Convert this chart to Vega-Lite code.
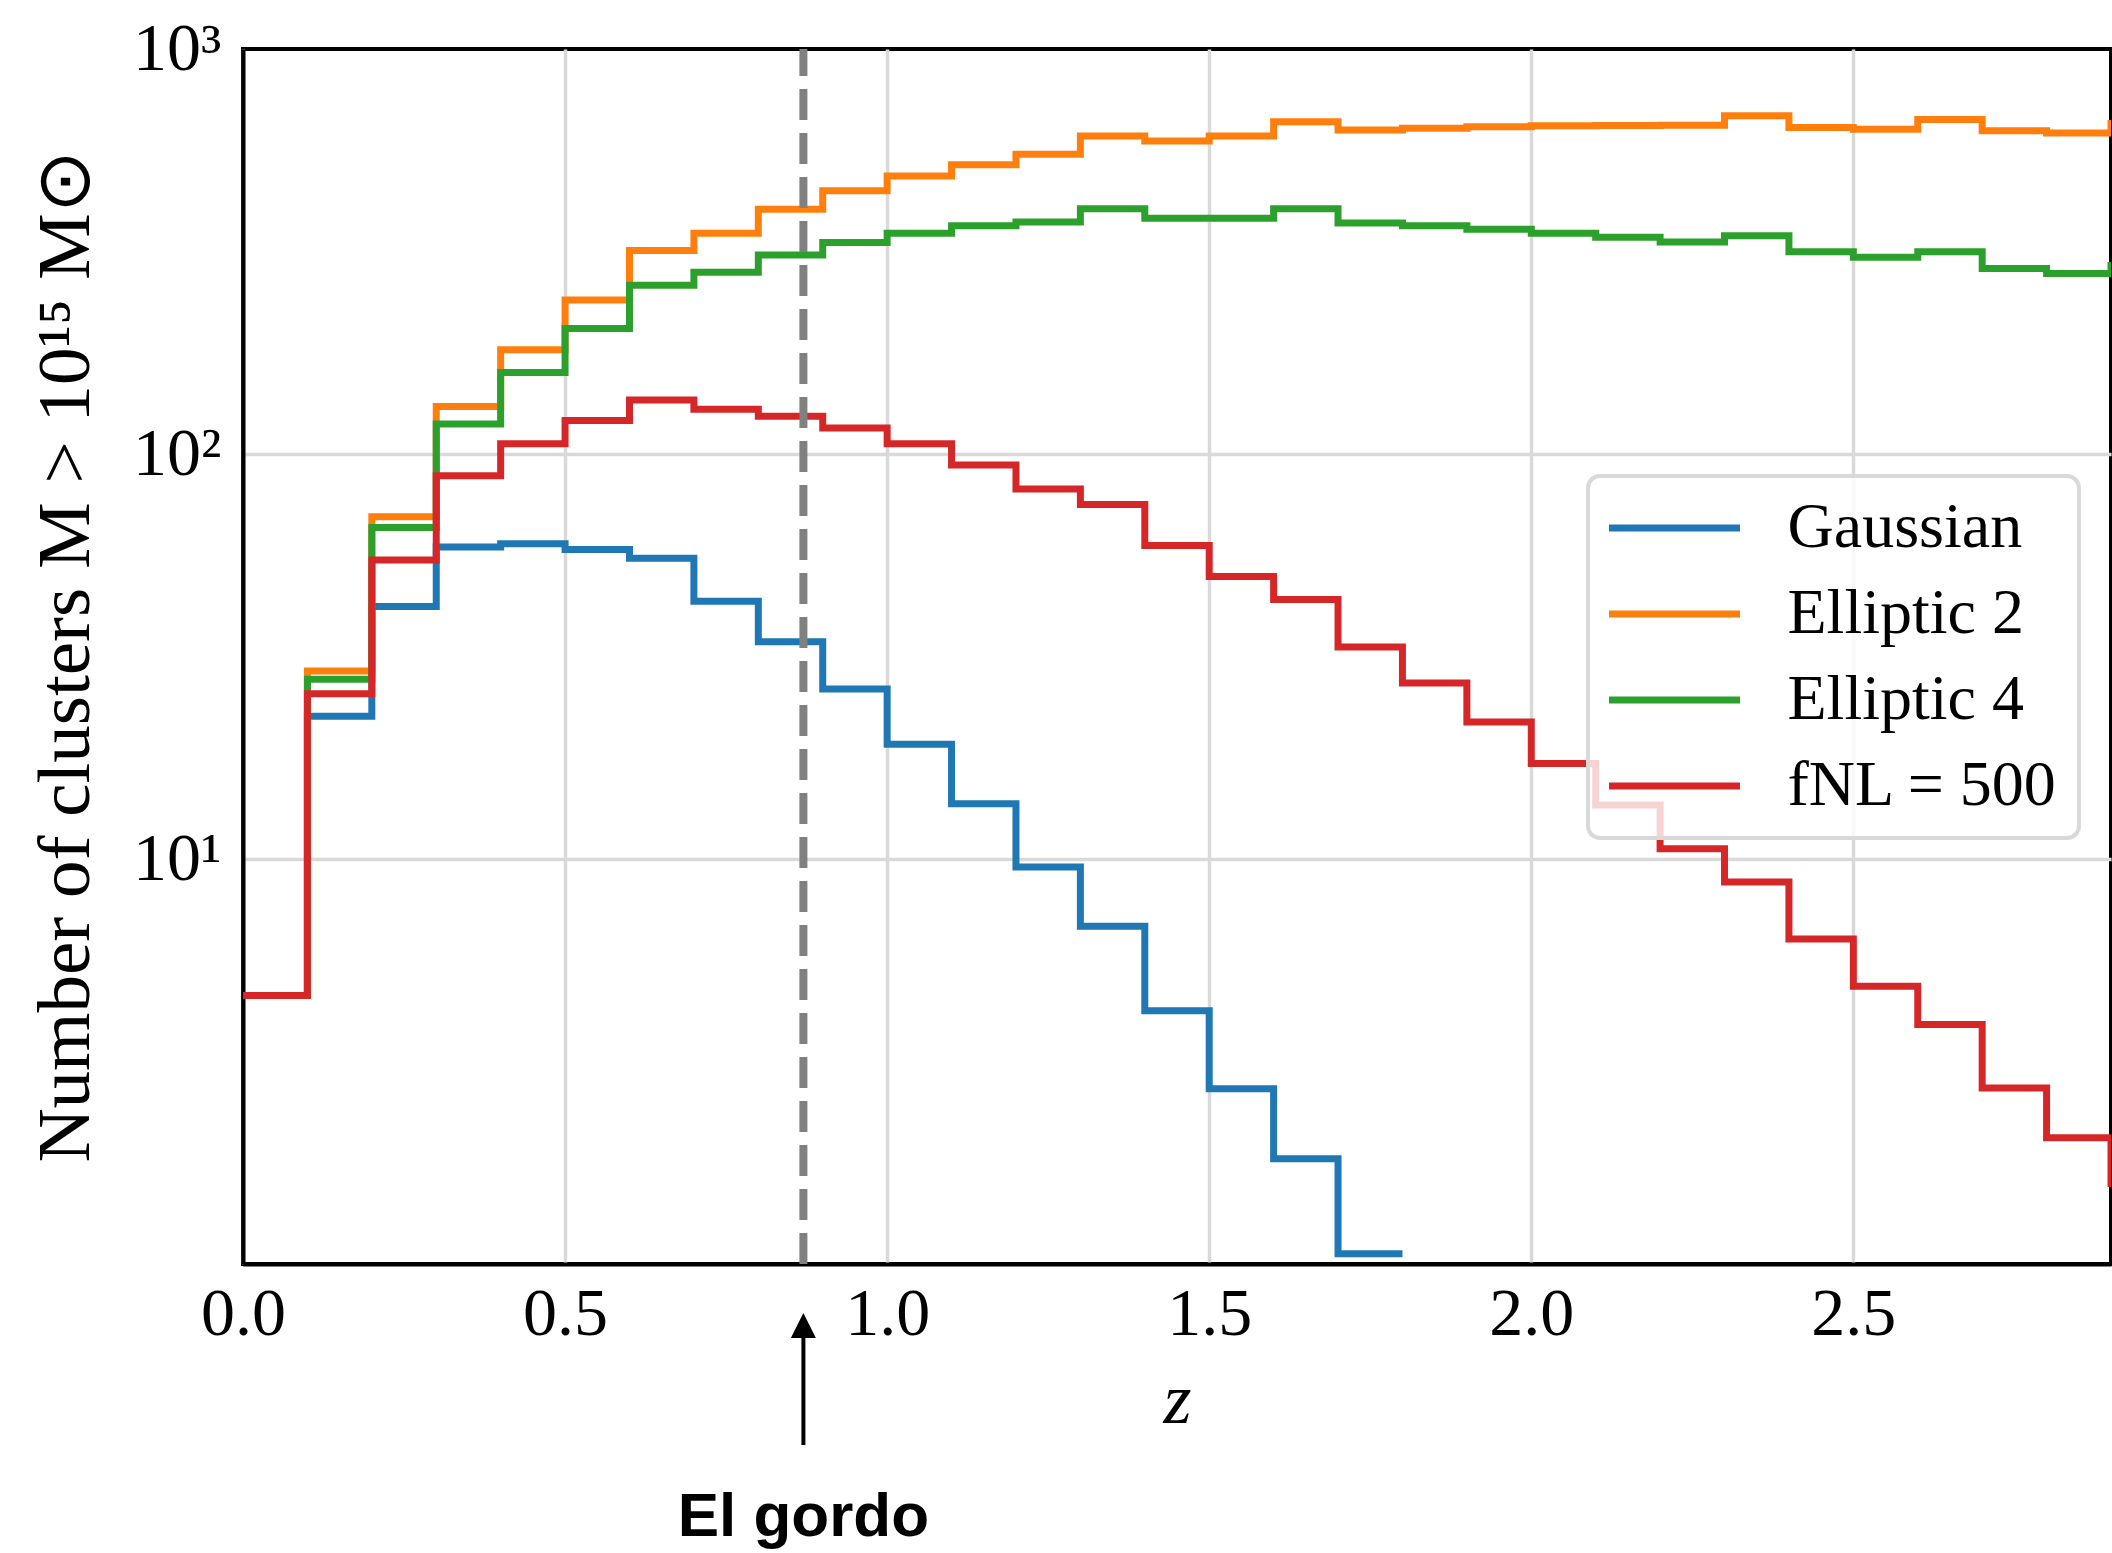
{
  "$schema": "https://vega.github.io/schema/vega-lite/v6.json",
  "width": 1868,
  "height": 1215,
  "autosize": {"type": "none"},
  "padding": {"left": 243, "top": 49, "right": 1, "bottom": 289},
  "background": "white",
  "config": {"view": {"stroke": "black", "strokeWidth": 4}, "legend": {"strokeWidth": 4}},
  "datasets": {
    "hist": [
      {"z": 0.0, "n": 4.6, "model": "Gaussian"},
      {"z": 0.1, "n": 22.5, "model": "Gaussian"},
      {"z": 0.2, "n": 42, "model": "Gaussian"},
      {"z": 0.3, "n": 58.9, "model": "Gaussian"},
      {"z": 0.4, "n": 60, "model": "Gaussian"},
      {"z": 0.5, "n": 58.1, "model": "Gaussian"},
      {"z": 0.6, "n": 55.3, "model": "Gaussian"},
      {"z": 0.7, "n": 43.3, "model": "Gaussian"},
      {"z": 0.8, "n": 34.4, "model": "Gaussian"},
      {"z": 0.9, "n": 26.3, "model": "Gaussian"},
      {"z": 1.0, "n": 19.2, "model": "Gaussian"},
      {"z": 1.1, "n": 13.7, "model": "Gaussian"},
      {"z": 1.2, "n": 9.55, "model": "Gaussian"},
      {"z": 1.3, "n": 6.82, "model": "Gaussian"},
      {"z": 1.4, "n": 4.22, "model": "Gaussian"},
      {"z": 1.5, "n": 2.71, "model": "Gaussian"},
      {"z": 1.6, "n": 1.82, "model": "Gaussian"},
      {"z": 1.7, "n": 1.06, "model": "Gaussian"},
      {"z": 1.8, "n": 1.06, "model": "Gaussian"},

      {"z": 0.0, "n": 4.6, "model": "Elliptic 2"},
      {"z": 0.1, "n": 29.1, "model": "Elliptic 2"},
      {"z": 0.2, "n": 70, "model": "Elliptic 2"},
      {"z": 0.3, "n": 131, "model": "Elliptic 2"},
      {"z": 0.4, "n": 181, "model": "Elliptic 2"},
      {"z": 0.5, "n": 240, "model": "Elliptic 2"},
      {"z": 0.6, "n": 318, "model": "Elliptic 2"},
      {"z": 0.7, "n": 351, "model": "Elliptic 2"},
      {"z": 0.8, "n": 402, "model": "Elliptic 2"},
      {"z": 0.9, "n": 447, "model": "Elliptic 2"},
      {"z": 1.0, "n": 486, "model": "Elliptic 2"},
      {"z": 1.1, "n": 518, "model": "Elliptic 2"},
      {"z": 1.2, "n": 550, "model": "Elliptic 2"},
      {"z": 1.3, "n": 610, "model": "Elliptic 2"},
      {"z": 1.4, "n": 593, "model": "Elliptic 2"},
      {"z": 1.5, "n": 610, "model": "Elliptic 2"},
      {"z": 1.6, "n": 661, "model": "Elliptic 2"},
      {"z": 1.7, "n": 631, "model": "Elliptic 2"},
      {"z": 1.8, "n": 637, "model": "Elliptic 2"},
      {"z": 1.9, "n": 643, "model": "Elliptic 2"},
      {"z": 2.0, "n": 646, "model": "Elliptic 2"},
      {"z": 2.1, "n": 647, "model": "Elliptic 2"},
      {"z": 2.2, "n": 648, "model": "Elliptic 2"},
      {"z": 2.3, "n": 684, "model": "Elliptic 2"},
      {"z": 2.4, "n": 640, "model": "Elliptic 2"},
      {"z": 2.5, "n": 634, "model": "Elliptic 2"},
      {"z": 2.6, "n": 670, "model": "Elliptic 2"},
      {"z": 2.7, "n": 628, "model": "Elliptic 2"},
      {"z": 2.8, "n": 620, "model": "Elliptic 2"},
      {"z": 2.9, "n": 655, "model": "Elliptic 2"},
      {"z": 3.0, "n": 655, "model": "Elliptic 2"},

      {"z": 0.0, "n": 4.6, "model": "Elliptic 4"},
      {"z": 0.1, "n": 27.8, "model": "Elliptic 4"},
      {"z": 0.2, "n": 65.8, "model": "Elliptic 4"},
      {"z": 0.3, "n": 118.6, "model": "Elliptic 4"},
      {"z": 0.4, "n": 159, "model": "Elliptic 4"},
      {"z": 0.5, "n": 204, "model": "Elliptic 4"},
      {"z": 0.6, "n": 261, "model": "Elliptic 4"},
      {"z": 0.7, "n": 281, "model": "Elliptic 4"},
      {"z": 0.8, "n": 310, "model": "Elliptic 4"},
      {"z": 0.9, "n": 333, "model": "Elliptic 4"},
      {"z": 1.0, "n": 351, "model": "Elliptic 4"},
      {"z": 1.1, "n": 366, "model": "Elliptic 4"},
      {"z": 1.2, "n": 374, "model": "Elliptic 4"},
      {"z": 1.3, "n": 403, "model": "Elliptic 4"},
      {"z": 1.4, "n": 382, "model": "Elliptic 4"},
      {"z": 1.5, "n": 382, "model": "Elliptic 4"},
      {"z": 1.6, "n": 403, "model": "Elliptic 4"},
      {"z": 1.7, "n": 372, "model": "Elliptic 4"},
      {"z": 1.8, "n": 366, "model": "Elliptic 4"},
      {"z": 1.9, "n": 359, "model": "Elliptic 4"},
      {"z": 2.0, "n": 351, "model": "Elliptic 4"},
      {"z": 2.1, "n": 343, "model": "Elliptic 4"},
      {"z": 2.2, "n": 334, "model": "Elliptic 4"},
      {"z": 2.3, "n": 346, "model": "Elliptic 4"},
      {"z": 2.4, "n": 316, "model": "Elliptic 4"},
      {"z": 2.5, "n": 306, "model": "Elliptic 4"},
      {"z": 2.6, "n": 316, "model": "Elliptic 4"},
      {"z": 2.7, "n": 287, "model": "Elliptic 4"},
      {"z": 2.8, "n": 279, "model": "Elliptic 4"},
      {"z": 2.9, "n": 292, "model": "Elliptic 4"},
      {"z": 3.0, "n": 292, "model": "Elliptic 4"},

      {"z": 0.0, "n": 4.6, "model": "fNL = 500"},
      {"z": 0.1, "n": 25.6, "model": "fNL = 500"},
      {"z": 0.2, "n": 54.7, "model": "fNL = 500"},
      {"z": 0.3, "n": 88.4, "model": "fNL = 500"},
      {"z": 0.4, "n": 106, "model": "fNL = 500"},
      {"z": 0.5, "n": 121, "model": "fNL = 500"},
      {"z": 0.6, "n": 136, "model": "fNL = 500"},
      {"z": 0.7, "n": 129, "model": "fNL = 500"},
      {"z": 0.8, "n": 124, "model": "fNL = 500"},
      {"z": 0.9, "n": 116, "model": "fNL = 500"},
      {"z": 1.0, "n": 106, "model": "fNL = 500"},
      {"z": 1.1, "n": 94, "model": "fNL = 500"},
      {"z": 1.2, "n": 82, "model": "fNL = 500"},
      {"z": 1.3, "n": 75, "model": "fNL = 500"},
      {"z": 1.4, "n": 59.4, "model": "fNL = 500"},
      {"z": 1.5, "n": 49.8, "model": "fNL = 500"},
      {"z": 1.6, "n": 43.7, "model": "fNL = 500"},
      {"z": 1.7, "n": 33.4, "model": "fNL = 500"},
      {"z": 1.8, "n": 27.2, "model": "fNL = 500"},
      {"z": 1.9, "n": 21.8, "model": "fNL = 500"},
      {"z": 2.0, "n": 17.2, "model": "fNL = 500"},
      {"z": 2.1, "n": 13.6, "model": "fNL = 500"},
      {"z": 2.2, "n": 10.6, "model": "fNL = 500"},
      {"z": 2.3, "n": 8.78, "model": "fNL = 500"},
      {"z": 2.4, "n": 6.35, "model": "fNL = 500"},
      {"z": 2.5, "n": 4.85, "model": "fNL = 500"},
      {"z": 2.6, "n": 3.9, "model": "fNL = 500"},
      {"z": 2.7, "n": 2.72, "model": "fNL = 500"},
      {"z": 2.8, "n": 2.05, "model": "fNL = 500"},
      {"z": 2.9, "n": 1.58, "model": "fNL = 500"},
      {"z": 3.0, "n": 1.58, "model": "fNL = 500"}
    ]
  },
  "layer": [
    {
      "data": {"name": "hist"},
      "mark": {"type": "line", "interpolate": "step-after", "strokeWidth": 7, "clip": true},
      "encoding": {
        "x": {
          "field": "z", "type": "quantitative",
          "scale": {"domain": [0, 2.9], "nice": false, "zero": false},
          "axis": {
            "title": "z",
            "values": [0, 0.5, 1, 1.5, 2, 2.5],
            "format": ".1f",
            "labelFont": "Liberation Serif", "labelFontSize": 68, "labelColor": "black",
            "labelFlush": false, "labelOverlap": false, "labelBound": false,
            "labelPadding": 16,
            "domainColor": "black", "domainWidth": 4,
            "tickSize": 0, "tickColor": "black", "tickWidth": 4,
            "grid": true, "gridColor": "#d9d9d9", "gridWidth": 3.5,
            "titleFont": "Liberation Serif", "titleFontSize": 72, "titleFontStyle": "italic",
            "titleFontWeight": "normal", "titleColor": "black",
            "titleX": 934, "titleY": 158, "titleBaseline": "alphabetic", "titleAlign": "center",
            "encode": {"ticks": {"y2": {"value": -18}}}
          }
        },
        "y": {
          "field": "n", "type": "quantitative",
          "scale": {"type": "log", "domain": [1, 1000], "nice": false},
          "axis": {
            "title": "Number of clusters M > 10¹⁵ M⊙",
            "values": [2,3,4,5,6,7,8,9,10,20,30,40,50,60,70,80,90,100,200,300,400,500,600,700,800,900,1000],
            "labelExpr": "datum.value == 1000 ? '10³' : datum.value == 100 ? '10²' : datum.value == 10 ? '10¹' : ''",
            "labelFont": "Liberation Serif", "labelFontSize": 68, "labelColor": "black",
            "labelFlush": false, "labelOverlap": false, "labelBound": false,
            "labelPadding": 22,
            "domainColor": "black", "domainWidth": 4,
            "tickSize": 0, "tickColor": "black", "tickWidth": 3.5,
            "grid": true, "gridColor": "#d9d9d9", "gridWidth": 3.5,
            "gridOpacity": {"condition": {"test": "datum.value == 10 || datum.value == 100", "value": 1}, "value": 0},
            "titleFont": "Liberation Serif", "titleFontSize": 75, "titleFontWeight": "normal", "titleColor": "black",
            "titleAngle": -90, "titleX": -155, "titleY": 607, "titleBaseline": "alphabetic", "titleAlign": "center",
            "encode": {"ticks": {"x2": {"condition": {"test": "datum.value == 10 || datum.value == 100 || datum.value == 1000", "value": 20}, "value": 11}}}
          }
        },
        "color": {
          "field": "model", "type": "nominal",
          "scale": {
            "domain": ["Gaussian", "Elliptic 2", "Elliptic 4", "fNL = 500"],
            "range": ["#1f77b4", "#ff7f0e", "#2ca02c", "#d62728"]
          },
          "legend": {
            "title": null,
            "orient": "none", "legendX": 1345, "legendY": 427,
            "symbolType": "M-3,0H3", "symbolSize": 1907, "symbolStrokeWidth": 7,
            "symbolOffset": 34.5, "labelOffset": 81,
            "labelFont": "Liberation Serif", "labelFontSize": 64, "labelColor": "black", "labelLimit": 1000,
            "rowPadding": 22, "padding": 20,
            "fillColor": "rgba(255,255,255,0.8)", "strokeColor": "#d9d9d9", "cornerRadius": 12,
            "zindex": 1,
            "encode": {"legend": {"strokeWidth": {"value": 4}}}
          }
        }
      }
    },
    {
      "data": {"values": [{"z": 0.87}]},
      "mark": {"type": "rule", "color": "#808080", "strokeWidth": 8, "strokeDash": [31, 13]},
      "encoding": {
        "x": {"field": "z", "type": "quantitative"},
        "y": {"datum": 1, "type": "quantitative"},
        "y2": {"datum": 1000}
      }
    },
    {
      "data": {"values": [{"z": 0.87}]},
      "mark": {"type": "rule", "color": "black", "strokeWidth": 4},
      "encoding": {
        "x": {"field": "z", "type": "quantitative"},
        "y": {"datum": 0.3573, "type": "quantitative"},
        "y2": {"datum": 0.705}
      }
    },
    {
      "data": {"values": [{"z": 0.87}]},
      "mark": {"type": "point", "shape": "M0,-1L1,1L-1,1Z", "size": 625, "filled": true, "color": "black", "opacity": 1},
      "encoding": {
        "x": {"field": "z", "type": "quantitative"},
        "y": {"datum": 0.705, "type": "quantitative"}
      }
    },
    {
      "data": {"values": [{"z": 0.87, "label": "El gordo"}]},
      "mark": {"type": "text", "font": "Liberation Sans", "fontWeight": "bold", "fontSize": 62, "baseline": "alphabetic", "align": "center", "color": "black"},
      "encoding": {
        "x": {"field": "z", "type": "quantitative"},
        "y": {"datum": 0.213, "type": "quantitative"},
        "text": {"field": "label"}
      }
    }
  ]
}
